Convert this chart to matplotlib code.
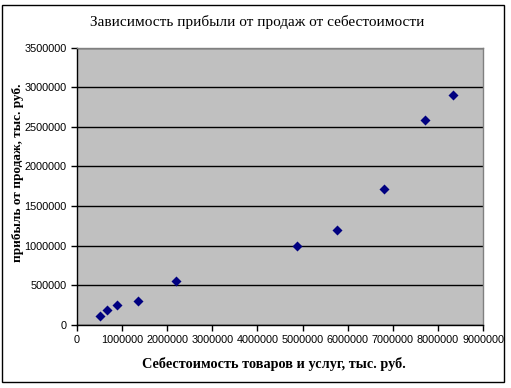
import matplotlib
matplotlib.use("Agg")
import matplotlib.pyplot as plt
from matplotlib.patches import Rectangle
from matplotlib.ticker import FuncFormatter

cost = [501000, 656000, 878000, 1344000, 2202000, 4870000, 5757000, 6807000, 7723000, 8328000]
profit = [117000, 185000, 248000, 299000, 551000, 992000, 1194000, 1710000, 2580000, 2895000]
xticks = list(range(0, 9000001, 1000000))
yticks = list(range(0, 3500001, 500000))

title = "Зависимость прибыли от продаж от себестоимости"
xlabel = "Себестоимость товаров и услуг, тыс. руб."
ylabel = "прибыль от продаж, тыс. руб."

W, H = 511, 388
fig = plt.figure(figsize=(W / 100, H / 100), dpi=100)
fig.patch.set_facecolor("white")
fig.patches.append(Rectangle((2 / W, 1 - 382 / H), 502 / W, 377 / H, transform=fig.transFigure,
                             fill=False, edgecolor="black", linewidth=1.0))

left, right, top, bottom = 77, 483, 47.5, 325
ax = fig.add_axes([left / W, 1 - bottom / H, (right - left) / W, (bottom - top) / H])
ax.set_facecolor("#C0C0C0")
for s in ax.spines.values():
    s.set_color("#808080")
    s.set_linewidth(1.0)
ax.spines["left"].set_color("black")
ax.spines["bottom"].set_color("black")

ax.set_xlim(0, 9000000)
ax.set_ylim(0, 3500000)
ax.set_xticks(xticks)
ax.set_yticks(yticks)
fmt = FuncFormatter(lambda v, p: f"{int(v)}")
ax.xaxis.set_major_formatter(fmt)
ax.yaxis.set_major_formatter(fmt)
ax.yaxis.grid(True, color="black", linewidth=1.0)
ax.set_axisbelow(True)
ax.tick_params(direction="out", length=4, width=1, colors="black", labelsize=7.8)
for lab in ax.get_xticklabels() + ax.get_yticklabels():
    lab.set_family("Liberation Sans")

ax.scatter(cost, profit, marker="D", s=26, color="#000080", zorder=3, linewidths=0)

fig.text(257 / W, 1 - 22 / H, title, ha="center", va="center", family="Liberation Serif", fontsize=11)
fig.text(274 / W, 1 - 364 / H, xlabel, ha="center", va="center", family="Liberation Serif",
         fontsize=10.3, fontweight="bold")
fig.text(18 / W, 1 - 173 / H, ylabel, ha="center", va="center", rotation=90,
         family="Liberation Serif", fontsize=9.5, fontweight="bold")

fig.savefig("out.png", dpi=100)
